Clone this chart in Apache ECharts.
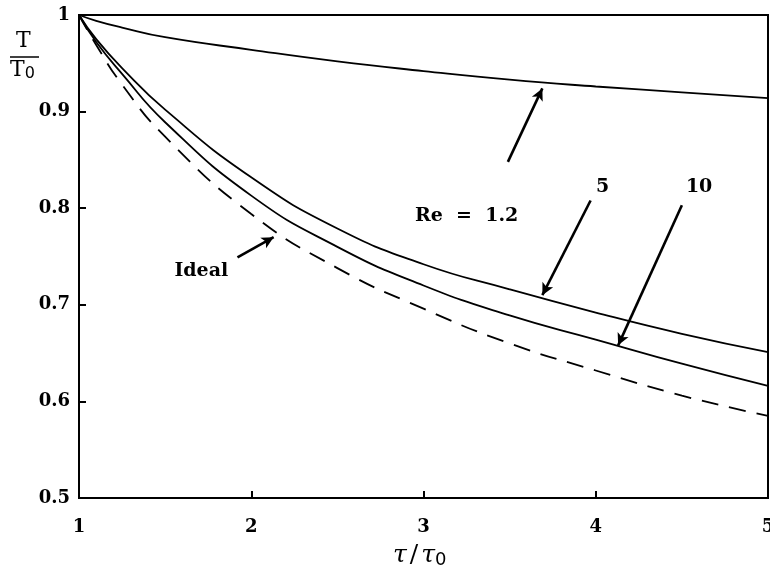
<!DOCTYPE html>
<html>
<head>
<meta charset="utf-8">
<script src="https://cdn.jsdelivr.net/npm/echarts@6/dist/echarts.min.js"></script>
<style>
  html, body { margin: 0; padding: 0; background: #fff; }
  #chart { width: 770px; height: 575px; }
</style>
</head>
<body>
<div id="chart"></div>
<script>
// τ/τ0 sample positions
const tauRatio = [1, 1.1, 1.25, 1.5, 2, 2.5, 3, 3.5, 4, 4.5, 5];

// T/T0 for each Reynolds number, and the ideal case
const re12 = [1, 0.994, 0.987, 0.977, 0.964, 0.952, 0.942, 0.933, 0.926, 0.920, 0.914];
const re5 = [1, 0.975, 0.945, 0.902, 0.832, 0.779, 0.742, 0.716, 0.692, 0.670, 0.651];
const re10 = [1, 0.972, 0.939, 0.889, 0.813, 0.760, 0.720, 0.689, 0.664, 0.639, 0.616];
const ideal = [1, 0.969, 0.928, 0.874, 0.794, 0.738, 0.696, 0.660, 0.632, 0.606, 0.585];

// Axis ticks
const xTicks = [1, 2, 3, 4, 5];
const yTicks = [0.5, 0.6, 0.7, 0.8, 0.9, 1];

// Annotation labels: [text, x, y]
const labels = [
  ['Re  =  1.2', 3.25, 0.792],
  ['5', 4.04, 0.822],
  ['10', 4.60, 0.822],
  ['Ideal', 1.71, 0.735]
];
// Annotation arrows: [tailX, tailY, headX, headY]
const arrows = [
  [3.49, 0.848, 3.69, 0.924],
  [3.97, 0.808, 3.69, 0.710],
  [4.50, 0.803, 4.13, 0.658],
  [1.92, 0.749, 2.13, 0.770]
];

const FONT = '"DejaVu Serif", "Liberation Serif", serif';
const pairs = ys => tauRatio.map((x, i) => [x, ys[i]]);

const chart = echarts.init(document.getElementById('chart'), null, { renderer: 'canvas' });

const solid = (name, ys) => ({
  name, type: 'line', data: pairs(ys), smooth: 0.5, showSymbol: false,
  lineStyle: { color: '#000', width: 1.8 }, silent: true
});

chart.setOption({
  animation: false,
  backgroundColor: '#fff',
  grid: {
    left: 79, right: 2, top: 15, bottom: 77, containLabel: false, outerBoundsMode: 'none',
    show: true, borderColor: '#000', borderWidth: 2
  },
  xAxis: {
    type: 'value', min: xTicks[0], max: xTicks[xTicks.length - 1], interval: 1,
    axisLine: { lineStyle: { color: '#000', width: 2 } },
    axisTick: { inside: true, length: 7, lineStyle: { color: '#000', width: 2 } },
    splitLine: { show: false },
    axisLabel: { color: '#000', fontFamily: FONT, fontWeight: 'bold', fontSize: 18, margin: 20,
      hideOverlap: false, formatter: v => String(v) }
  },
  yAxis: {
    type: 'value', min: yTicks[0], max: yTicks[yTicks.length - 1], interval: 0.1,
    axisLine: { lineStyle: { color: '#000', width: 2 } },
    axisTick: { inside: true, length: 7, lineStyle: { color: '#000', width: 2 } },
    splitLine: { show: false },
    axisLabel: { color: '#000', fontFamily: FONT, fontWeight: 'bold', fontSize: 18, margin: 9,
      formatter: v => (v === 1 ? '1' : v.toFixed(1)) }
  },
  series: [
    Object.assign(solid('Re = 1.2', re12), {
      markLine: {
        silent: true, symbol: ['none', 'arrow'], symbolSize: [9, 12],
        lineStyle: { color: '#000', width: 2.6, type: 'solid' },
        label: { show: false },
        data: arrows.map(a => [{ coord: [a[0], a[1]] }, { coord: [a[2], a[3]] }])
      },
      markPoint: {
        silent: true, symbol: 'circle', symbolSize: 0,
        label: { show: true, position: 'inside', color: '#000', fontFamily: FONT, fontWeight: 'bold', fontSize: 19,
          formatter: p => p.name },
        data: labels.map(l => ({ name: l[0], coord: [l[1], l[2]] }))
      }
    }),
    solid('Re = 5', re5),
    solid('Re = 10', re10),
    {
      name: 'Ideal', type: 'line', data: pairs(ideal), smooth: 0.5,
      showSymbol: false, silent: true,
      lineStyle: { color: '#000', width: 1.8, type: [17, 11] }
    }
  ],
  graphic: [
    { type: 'text', left: 16, top: 30, style: { text: 'T', font: '22px ' + FONT, fill: '#000' } },
    { type: 'line', shape: { x1: 10, y1: 57, x2: 39, y2: 57 }, style: { stroke: '#000', lineWidth: 1.5 } },
    { type: 'text', left: 10, top: 59, style: {
        text: '{a|T}{b|0}', fill: '#000',
        rich: { a: { font: '22px ' + FONT }, b: { font: '16px "DejaVu Sans", sans-serif', padding: [8, 0, 0, 0] } } } },
    { type: 'text', left: 393, top: 543, style: {
        text: '{a|τ}{s|/}{a|τ}{b|0}', fill: '#000',
        rich: {
          a: { font: 'italic 25px ' + FONT },
          s: { font: '25px ' + FONT, padding: [0, 3, 0, 3] },
          b: { font: '18px "DejaVu Sans", sans-serif', padding: [9, 0, 0, 0] }
        } } }
  ]
});
</script>
</body>
</html>
